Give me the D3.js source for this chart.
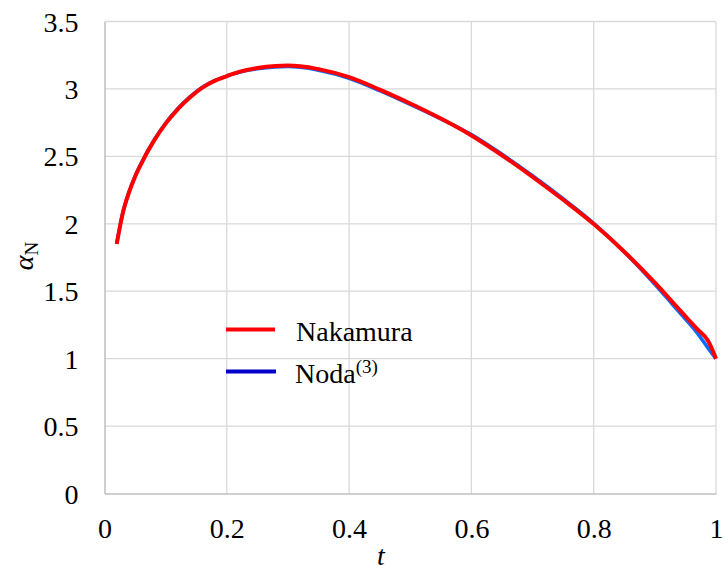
<!DOCTYPE html>
<html>
<head>
<meta charset="utf-8">
<script src="https://cdn.jsdelivr.net/npm/d3@7"></script>
<style>
  body { margin: 0; background: #fff; }
  svg { display: block; }
</style>
</head>
<body>
<div id="chart"></div>
<script>
// values
var tValues  = [0.02, 0.03, 0.04, 0.05, 0.06, 0.08, 0.10, 0.12, 0.14, 0.16, 0.18, 0.20, 0.22, 0.25, 0.28, 0.30, 0.32, 0.35, 0.40, 0.45, 0.50, 0.55, 0.60, 0.65, 0.70, 0.75, 0.80, 0.85, 0.90, 0.93, 0.954, 0.97, 0.987, 1.00];
var nakamura = [1.85, 2.081, 2.232, 2.349, 2.445, 2.609, 2.743, 2.851, 2.939, 3.010, 3.060, 3.095, 3.126, 3.155, 3.170, 3.173, 3.168, 3.147, 3.087, 2.995, 2.892, 2.780, 2.655, 2.508, 2.348, 2.178, 1.998, 1.793, 1.563, 1.414, 1.294, 1.216, 1.133, 1.00];
var noda     = [1.855, 2.085, 2.236, 2.353, 2.449, 2.613, 2.747, 2.855, 2.943, 3.013, 3.062, 3.095, 3.123, 3.149, 3.163, 3.166, 3.160, 3.139, 3.079, 2.987, 2.885, 2.778, 2.662, 2.516, 2.356, 2.186, 2.004, 1.791, 1.551, 1.396, 1.272, 1.186, 1.078, 1.00];
var xTicks = [0, 0.2, 0.4, 0.6, 0.8, 1];
var yTicks = [0, 0.5, 1, 1.5, 2, 2.5, 3, 3.5];

var W = 725, H = 572;
var FONT = "Liberation Serif";
var margin = {top: 21.5, right: 9, bottom: 78.5, left: 104.5};

var svg = d3.select("#chart").append("svg").attr("width", W).attr("height", H)
  .attr("font-family", FONT);

var x = d3.scaleLinear().domain([0, 1]).range([margin.left, W - margin.right]);
var y = d3.scaleLinear().domain([0, 3.5]).range([H - margin.bottom, margin.top]);

// grid
svg.append("g").selectAll("line").data(yTicks.slice(1)).enter().append("line")
  .attr("x1", x(0)).attr("x2", x(1))
  .attr("y1", function(d) { return y(d); }).attr("y2", function(d) { return y(d); })
  .attr("stroke", "#d9d9d9").attr("stroke-width", 1.3);
svg.append("g").selectAll("line").data(xTicks.slice(1)).enter().append("line")
  .attr("y1", y(0)).attr("y2", y(3.5))
  .attr("x1", function(d) { return x(d); }).attr("x2", function(d) { return x(d); })
  .attr("stroke", "#d9d9d9").attr("stroke-width", 1.3);

// axes
var yAxis = svg.append("g").attr("transform", "translate(" + x(0) + ",0)")
  .call(d3.axisLeft(y).tickValues(yTicks).tickSize(0).tickPadding(26).tickFormat(d3.format("")));
var xAxis = svg.append("g").attr("transform", "translate(0," + y(0) + ")")
  .call(d3.axisBottom(x).tickValues(xTicks).tickSize(0).tickPadding(25).tickFormat(d3.format("")));
[xAxis, yAxis].forEach(function(a) {
  a.attr("font-family", FONT);
  a.select(".domain").attr("stroke", "#bfbfbf").attr("stroke-width", 1.5);
  a.selectAll("text").attr("font-family", FONT).attr("font-size", 28).attr("fill", "#000");
});
yAxis.selectAll("text").attr("dy", "0.34em");

// curves
var line = d3.line()
  .x(function(d) { return x(d[0]); })
  .y(function(d) { return y(d[1]); })
  .curve(d3.curveMonotoneX);

svg.append("path").datum(d3.zip(tValues, noda))
  .attr("d", line).attr("fill", "none").attr("stroke", "#0a6cff").attr("stroke-width", 3.5);
svg.append("path").datum(d3.zip(tValues, nakamura))
  .attr("d", line).attr("fill", "none").attr("stroke", "#ff0000").attr("stroke-width", 4);

// legend
var legend = svg.append("g");
legend.append("line").attr("x1", 226).attr("x2", 275).attr("y1", 329.5).attr("y2", 329.5)
  .attr("stroke", "#ff0000").attr("stroke-width", 4);
legend.append("line").attr("x1", 226).attr("x2", 276).attr("y1", 371.5).attr("y2", 371.5)
  .attr("stroke", "#0000c8").attr("stroke-width", 4);
legend.append("text").attr("x", 296).attr("y", 340.5).attr("font-family", FONT)
  .attr("font-size", 28).text("Nakamura");
var noTxt = legend.append("text").attr("x", 295).attr("y", 382.5).attr("font-family", FONT)
  .attr("font-size", 28);
noTxt.append("tspan").text("Noda");
noTxt.append("tspan").attr("font-size", 19).attr("dy", -10).text("(3)");

// axis titles
svg.append("text").attr("x", 381).attr("y", 565).attr("text-anchor", "middle").attr("font-family", FONT)
  .attr("font-size", 28).attr("font-style", "italic").text("t");
var yt = svg.append("text").attr("transform", "translate(32.5,256) rotate(-90)").attr("font-family", FONT)
  .attr("text-anchor", "middle").attr("font-size", 28);
yt.append("tspan").attr("font-style", "italic").text("α");
yt.append("tspan").attr("font-size", 19).attr("dy", 5).text("N");
</script>
</body>
</html>
